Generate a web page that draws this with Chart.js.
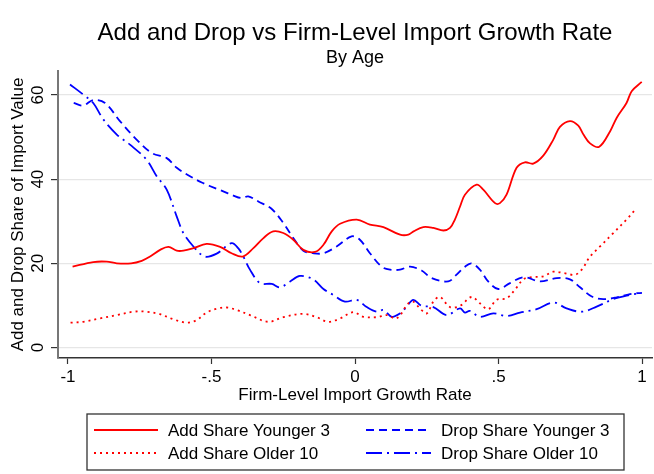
<!DOCTYPE html>
<html><head><meta charset="utf-8">
<script src="https://cdn.jsdelivr.net/npm/chart.js@4"></script>
<style>html,body{margin:0;padding:0;background:#fff;}canvas{display:block;}</style>
</head><body>
<canvas id="c" width="654" height="474"></canvas>
<script>
const chartTitle = 'Add and Drop vs Firm-Level Import Growth Rate';
const chartSubtitle = 'By Age';
const xAxisTitle = 'Firm-Level Import Growth Rate';
const yAxisTitle = 'Add and Drop Share of Import Value';
const seriesNames = ['Add Share Younger 3', 'Drop Share Younger 3', 'Add Share Older 10', 'Drop Share Older 10'];

const xTicks = [-1, -0.5, 0, 0.5, 1];
const xTickLabels = ['-1', '-.5', '0', '.5', '1'];
const yTicks = [0, 20, 40, 60];
const yTickLabels = ['0', '20', '40', '60'];

// Add Share Younger 3
const addYoungX = [-0.984,-0.912,-0.865,-0.83,-0.78,-0.743,-0.714,-0.679,-0.65,-0.621,-0.598,-0.563,-0.517,-0.47,-0.43,-0.391,-0.354,-0.319,-0.285,-0.25,-0.215,-0.18,-0.139,-0.11,-0.081,-0.052,0.006,0.052,0.099,0.157,0.186,0.204,0.238,0.273,0.308,0.331,0.348,0.366,0.383,0.424,0.447,0.488,0.505,0.528,0.563,0.592,0.621,0.656,0.691,0.714,0.749,0.778,0.796,0.819,0.851,0.889,0.912,0.946,0.964,0.999];
const addYoungY = [19.2,20.3,20.4,20.0,20.0,20.6,21.6,23.2,23.9,23.0,23.0,23.6,24.6,23.9,22.4,21.6,23.6,26.0,27.6,27.2,25.6,23.2,22.7,24.4,27.6,29.4,30.4,29.2,28.6,26.8,26.8,27.6,28.6,28.4,27.8,28.4,30.4,33.5,36.3,38.7,37.5,34.3,34.3,36.3,42.7,44.0,43.7,45.6,49.4,52.4,53.8,52.7,50.6,48.5,47.7,51.4,54.6,58.1,60.9,63.1];

// Drop Share Younger 3
const dropYoungX = [-0.98,-0.947,-0.912,-0.871,-0.819,-0.761,-0.708,-0.656,-0.621,-0.575,-0.534,-0.482,-0.459,-0.424,-0.395,-0.372,-0.337,-0.29,-0.25,-0.215,-0.18,-0.146,-0.11,-0.064,-0.012,0.017,0.052,0.093,0.122,0.157,0.192,0.232,0.267,0.325,0.354,0.383,0.406,0.435,0.464,0.499,0.54,0.587,0.645,0.703,0.749,0.784,0.825,0.865,0.912,0.958,0.999];
const dropYoungY = [58.1,57.5,58.8,58.1,53.8,49.4,46.2,45.0,42.7,40.7,39.2,37.7,37.1,36.1,35.5,35.9,34.7,32.9,29.6,26.0,23.0,22.4,22.4,24.0,26.4,25.6,22.4,19.2,18.5,18.5,19.2,18.3,16.5,15.7,17.3,19.2,20.0,18.5,15.7,13.9,15.3,16.7,15.7,16.5,16.2,14.3,12.1,11.5,11.9,12.7,13.0];

// Add Share Older 10
const addOldX = [-0.991,-0.947,-0.889,-0.83,-0.772,-0.726,-0.679,-0.633,-0.586,-0.552,-0.517,-0.482,-0.447,-0.412,-0.366,-0.302,-0.25,-0.18,-0.134,-0.093,-0.052,-0.006,0.029,0.076,0.111,0.145,0.186,0.203,0.226,0.25,0.273,0.296,0.331,0.366,0.406,0.435,0.464,0.493,0.528,0.557,0.587,0.616,0.656,0.691,0.726,0.767,0.79,0.819,0.854,0.9,0.946,0.981];
const addOldY = [5.9,6.1,6.9,7.7,8.5,8.5,7.9,6.7,5.9,6.5,8.3,9.2,9.5,8.9,7.7,6.1,7.2,8.0,7.2,6.1,6.9,8.4,7.3,7.2,7.7,6.9,10.5,10.9,9.3,8.1,10.9,12.0,9.6,9.9,12.0,10.5,9.1,11.3,11.7,13.7,16.2,16.7,16.9,18.0,17.7,17.3,18.5,21.6,24.0,27.2,30.4,33.1];

// Drop Share Older 10
const dropOldX = [-0.993,-0.947,-0.912,-0.877,-0.83,-0.784,-0.726,-0.691,-0.656,-0.621,-0.598,-0.563,-0.523,-0.482,-0.43,-0.407,-0.389,-0.366,-0.331,-0.29,-0.261,-0.226,-0.192,-0.146,-0.11,-0.076,-0.035,0.006,0.041,0.076,0.099,0.128,0.157,0.18,0.203,0.232,0.273,0.319,0.366,0.383,0.4,0.435,0.482,0.528,0.575,0.633,0.691,0.737,0.79,0.842,0.9,0.958,0.999];
const dropOldY = [62.5,60.1,58.1,54.2,50.6,48.2,44.6,40.7,37.5,31.1,27.2,24.0,21.6,22.3,24.8,23.6,21.6,18.5,15.3,15.1,14.3,15.7,17.0,16.2,13.9,12.5,10.9,11.3,9.6,8.5,8.9,7.3,8.1,9.7,11.3,9.9,9.6,7.7,9.3,8.3,8.7,7.3,8.1,7.5,8.3,9.1,10.7,9.3,8.5,9.7,11.5,12.5,13.0];

const FONT = '"Liberation Sans", Arial, Helvetica, sans-serif';
const RED = '#ff0000', BLUE = '#0000ff';

function pts(xs, ys) { return xs.map((x, i) => ({x: x, y: ys[i]})); }

const styles = [
  {color: RED, dash: []},
  {color: BLUE, dash: [8, 5]},
  {color: RED, dash: [2, 4]},
  {color: BLUE, dash: [16, 5, 2, 5]}
];
const seriesData = [pts(addYoungX, addYoungY), pts(dropYoungX, dropYoungY), pts(addOldX, addOldY), pts(dropOldX, dropOldY)];

const datasets = seriesNames.map((name, i) => ({
  label: name,
  data: seriesData[i],
  borderColor: styles[i].color,
  backgroundColor: styles[i].color,
  borderDash: styles[i].dash,
  borderWidth: 1.8,
  pointRadius: 0,
  fill: false,
  tension: 0.35,
  borderCapStyle: 'butt'
}));

const titlePlugin = {
  id: 'stataTitle',
  afterDraw(chart) {
    const ctx = chart.ctx;
    const a = chart.chartArea;
    const cx = (a.left + a.right) / 2;
    ctx.save();
    ctx.fillStyle = '#000';
    ctx.textAlign = 'center';
    ctx.textBaseline = 'middle';
    ctx.font = '24px ' + FONT;
    ctx.fillText(chartTitle, cx, 33);
    ctx.font = '18px ' + FONT;
    ctx.fillText(chartSubtitle, cx, 58);
    ctx.restore();
  }
};

const legendPlugin = {
  id: 'stataLegend',
  afterDraw(chart) {
    const ctx = chart.ctx;
    ctx.save();
    ctx.strokeStyle = '#333';
    ctx.lineWidth = 1.3;
    ctx.strokeRect(87, 414, 537, 56);
    const slots = [[94, 158, 168, 430], [366, 431, 441, 430], [94, 158, 168, 453], [366, 431, 441, 453]];
    chart.data.datasets.forEach((ds, i) => {
      const s = slots[i];
      ctx.beginPath();
      ctx.setLineDash(ds.borderDash || []);
      ctx.strokeStyle = ds.borderColor;
      ctx.lineWidth = ds.borderWidth;
      ctx.lineCap = 'butt';
      ctx.moveTo(s[0], s[3]);
      ctx.lineTo(s[1], s[3]);
      ctx.stroke();
      ctx.setLineDash([]);
      ctx.fillStyle = '#000';
      ctx.font = '17px ' + FONT;
      ctx.textBaseline = 'middle';
      ctx.textAlign = 'left';
      ctx.fillText(ds.label, s[2], s[3] + 1.5);
    });
    ctx.restore();
  }
};

new Chart(document.getElementById('c'), {
  type: 'line',
  data: {datasets: datasets},
  options: {
    responsive: false,
    animation: false,
    devicePixelRatio: 1,
    layout: {padding: {left: 0, right: 2, top: 71, bottom: 66}},
    plugins: {
      legend: {display: false},
      tooltip: {enabled: false},
      title: {display: false},
      subtitle: {display: false}
    },
    scales: {
      x: {
        type: 'linear',
        min: -1.0348, max: 1.0348,
        afterBuildTicks(scale) { scale.ticks = xTicks.map(v => ({value: v})); },
        afterFit(scale) { scale.height = 50; },
        ticks: {
          color: '#000', font: {family: FONT, size: 17}, padding: 3,
          maxRotation: 0, minRotation: 0, autoSkip: false,
          callback: (v) => { const k = xTicks.indexOf(v); return k >= 0 ? xTickLabels[k] : ''; }
        },
        grid: {drawOnChartArea: false, drawTicks: true, tickLength: 6, tickColor: '#333', tickWidth: 1.2},
        border: {display: true, color: '#333', width: 1.5},
        title: {display: true, text: xAxisTitle, color: '#000', font: {family: FONT, size: 17}, padding: {top: 0, bottom: 2}}
      },
      y: {
        type: 'linear',
        min: -2.5, max: 65.7,
        afterBuildTicks(scale) { scale.ticks = yTicks.map(v => ({value: v})); },
        afterFit(scale) { scale.width = 58; },
        ticks: {
          color: '#000', font: {family: FONT, size: 17}, padding: 3,
          minRotation: 90, maxRotation: 90, crossAlign: 'center', autoSkip: false,
          callback: (v) => { const k = yTicks.indexOf(v); return k >= 0 ? yTickLabels[k] : ''; }
        },
        grid: {color: '#e6e6e6', lineWidth: 1.2, drawTicks: true, tickLength: 7, tickColor: '#333', tickWidth: 1.2},
        border: {display: true, color: '#777', width: 2},
        title: {display: true, text: yAxisTitle, color: '#000', font: {family: FONT, size: 17}, padding: {top: 8, bottom: 0}}
      }
    }
  },
  plugins: [titlePlugin, legendPlugin]
});
</script>
</body></html>
